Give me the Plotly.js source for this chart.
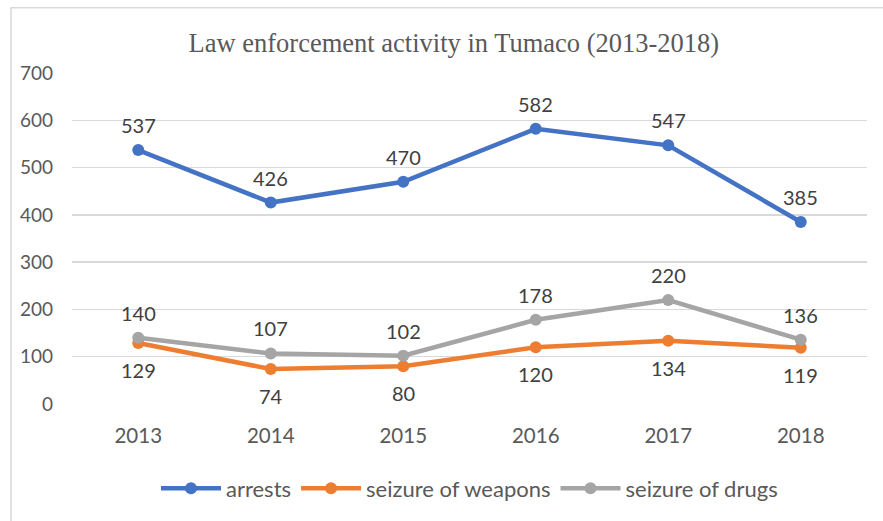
<!DOCTYPE html>
<html>
<head>
<meta charset="utf-8">
<script src="https://cdn.plot.ly/plotly-3.0.1.min.js"></script>
<style>html,body{margin:0;padding:0;background:#fff;}#chart{width:883px;height:521px;}</style>
</head>
<body>
<div id="chart"></div>
<script>
var years = ['2013', '2014', '2015', '2016', '2017', '2018'];
var arrests = [537, 426, 470, 582, 547, 385];
var weapons = [129, 74, 80, 120, 134, 119];
var drugs = [140, 107, 102, 178, 220, 136];
var yTicks = [0, 100, 200, 300, 400, 500, 600, 700];

var labelFont = {family: 'Lato, sans-serif', size: 20, color: '#404040'};

function series(name, vals, color) {
  return {
    x: years, y: vals, name: name, type: 'scatter', mode: 'lines+markers',
    line: {color: color, width: 4.5},
    marker: {color: color, size: 12}
  };
}

var data = [
  series('arrests', arrests, '#4472C4'),
  series('seizure of weapons', weapons, '#ED7D31'),
  series('seizure of drugs', drugs, '#A5A5A5')
];

// category axis: annotations use the category's serial index
function labels(vals, shift) {
  return vals.map(function (v, i) {
    return {x: years.indexOf(years[i]), y: v, xref: 'x', yref: 'y', text: String(v), showarrow: false,
      yshift: shift, font: labelFont};
  });
}
var annotations = [].concat(labels(arrests, 25), labels(weapons, -27), labels(drugs, 25));

var layout = {
  width: 883, height: 521,
  margin: {l: 72, r: 16, t: 73, b: 117},
  paper_bgcolor: '#fff', plot_bgcolor: '#fff',
  showlegend: true,
  title: {text: 'Law enforcement activity in Tumaco (2013-2018)',
    font: {family: '"Liberation Serif", "Times New Roman", serif', size: 26.5, color: '#595959'},
    x: 0.514, xanchor: 'center', y: 0.918, yanchor: 'middle'},
  xaxis: {type: 'category', range: [-0.5, 5.5], showgrid: false, zeroline: false,
    showline: false, ticks: '', ticklabelstandoff: 17,
    tickfont: {family: 'Lato, sans-serif', size: 20.5, color: '#595959'}},
  yaxis: {range: [0, 700], tickvals: yTicks, showgrid: true, gridcolor: '#d9d9d9', gridwidth: 1.3,
    zeroline: false, showline: false, ticks: '', ticklabelstandoff: 18,
    tickfont: {family: 'Lato, sans-serif', size: 19, color: '#595959'}},
  legend: {orientation: 'h', x: 0.5, xanchor: 'center', y: -0.255, yanchor: 'middle',
    font: {family: 'Lato, sans-serif', size: 22, color: '#595959'}, itemwidth: 60},
  annotations: annotations,
  shapes: [{type: 'rect', xref: 'paper', yref: 'paper',
    x0: -0.0767, x1: 1.03, y0: -0.38, y1: 1.197,
    line: {color: '#d9d9d9', width: 1.5}, fillcolor: 'rgba(0,0,0,0)', layer: 'below'}]
};

Plotly.newPlot('chart', data, layout, {displayModeBar: false, staticPlot: true});
</script>
</body>
</html>
